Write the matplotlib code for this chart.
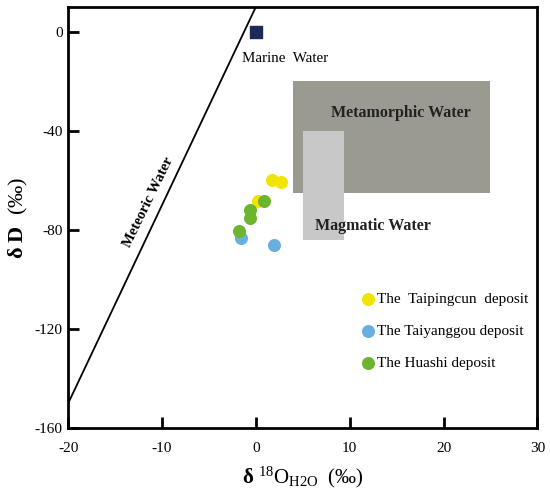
"""Delta D vs delta 18O plot of ore-forming fluids."""

from matplotlib import pyplot as plt
from matplotlib.patches import Rectangle
import numpy as np

plt.rcParams['font.family'] = ['Liberation Serif', 'DejaVu Serif']
plt.rcParams['mathtext.fontset'] = 'custom'
plt.rcParams['mathtext.rm'] = 'Liberation Serif'
plt.rcParams['mathtext.bf'] = 'Liberation Serif:bold'
plt.rcParams['mathtext.it'] = 'Liberation Serif:italic'
plt.rcParams['axes.unicode_minus'] = False

# sample data (d18O_H2O, dD)
taipingcun_o = [1.7, 2.7, 0.2]
taipingcun_d = [-59.7, -60.5, -68.4]
taiyanggou_o = [-1.6, 1.9]
taiyanggou_d = [-83.1, -86.3]
huashi_o = [0.85, -0.6, -0.6, -1.8]
huashi_d = [-68.4, -71.8, -75.4, -80.6]

# reference fields
marine_water = (0, 0)
metamorphic_box = (4, 25, -65, -20)   # x0, x1, y0, y1
magmatic_box = (5, 9.4, -84, -40)
meteoric_slope, meteoric_intercept = 8, 10

x_ticks = [-20, -10, 0, 10, 20, 30]
y_ticks = [0, -40, -80, -120, -160]

fig = plt.figure(figsize=(5.5, 4.92), dpi=100)
ax = fig.add_axes([0.124, 0.130, 0.853, 0.856])
ax.set_xlim(-20, 30)
ax.set_ylim(-160, 10)

x0, x1, y0, y1 = metamorphic_box
ax.add_patch(Rectangle((x0, y0), x1 - x0, y1 - y0, color='#9a9a90', lw=0, zorder=1))
x0, x1, y0, y1 = magmatic_box
ax.add_patch(Rectangle((x0, y0), x1 - x0, y1 - y0, color='#c8c8c8', lw=0, zorder=2))

ax.text(8.0, -33, 'Metamorphic Water', fontsize=11.5, fontweight='bold',
        color='#222222', va='center', zorder=3)
ax.text(6.3, -78.5, 'Magmatic Water', fontsize=11.5, fontweight='bold',
        color='#222222', va='center', zorder=3)

line_x = np.array([-20, 0])
ax.plot(line_x, meteoric_slope * line_x + meteoric_intercept, color='black', lw=1.3, zorder=3)
ax.text(-11.4, -69.0, 'Meteoric Water', fontsize=10.5, fontweight='bold',
        rotation=64, ha='center', va='center', rotation_mode='anchor')

ax.scatter([marine_water[0]], [marine_water[1]], marker='s', s=75, color='#1c2a5a', zorder=4)
ax.text(-1.5, -10.9, 'Marine  Water', fontsize=10.8, va='center')

ms = 88
ax.scatter(taipingcun_o, taipingcun_d, s=ms, color='#f0e400', lw=0, zorder=4,
           label='The  Taipingcun  deposit')
ax.scatter(taiyanggou_o, taiyanggou_d, s=ms, color='#6aaee0', lw=0, zorder=4,
           label='The Taiyanggou deposit')
ax.scatter(huashi_o, huashi_d, s=ms, color='#6db52e', lw=0, zorder=5,
           label='The Huashi deposit')

ax.legend(loc='upper left', bbox_to_anchor=(0.626, 0.322), frameon=False,
          fontsize=11, handlelength=0.8, handletextpad=0.2, borderpad=0,
          borderaxespad=0, labelspacing=1.2, scatterpoints=1)

ax.set_xticks(x_ticks)
ax.set_yticks(y_ticks)
ax.tick_params(direction='in', length=8, width=2, labelsize=11, pad=4)
ax.tick_params(axis='x', pad=10)
for sp in ax.spines.values():
    sp.set_linewidth(2)

ax.set_xlabel('$\\mathbf{δ}$ $^{18}$O$_{\\mathrm{H2O}}$  (‰)', fontsize=15, labelpad=7)
ax.set_ylabel('$\\mathbf{δ\\ D}$  (‰)', fontsize=16, labelpad=3)

fig.savefig('out.png', dpi=100)
